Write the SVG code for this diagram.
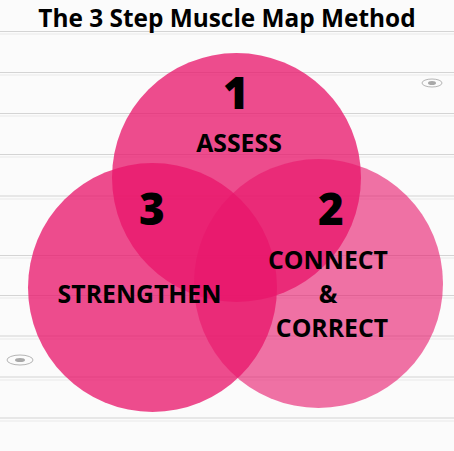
<svg xmlns="http://www.w3.org/2000/svg" width="454" height="451" viewBox="0 0 454 451">
  <style>
    .plank { stroke: #d4d4d4; stroke-width: 1.2; }
    .plankhi { stroke: #f2f2f2; stroke-width: 2; }
    .lbl { font-family: "Open Sans", "Liberation Sans", sans-serif; font-weight: 700; fill: #000; text-anchor: middle; }
    .num { font-family: "Open Sans", "Liberation Sans", sans-serif; font-weight: 800; fill: #000; text-anchor: middle; font-size: 44px; }
    .word { font-size: 24.8px; }
  </style>
  <g id="background">
    <rect x="0" y="0" width="454" height="451" fill="#fbfbfb"/>
    <g class="plankhi">
      <line x1="0" y1="34" x2="454" y2="34"/>
      <line x1="0" y1="75" x2="454" y2="75"/>
      <line x1="0" y1="116" x2="454" y2="116"/>
      <line x1="0" y1="157" x2="454" y2="157"/>
      <line x1="0" y1="199" x2="454" y2="199"/>
      <line x1="0" y1="258" x2="454" y2="258"/>
      <line x1="0" y1="298" x2="454" y2="298"/>
      <line x1="0" y1="339" x2="454" y2="339"/>
      <line x1="0" y1="380" x2="454" y2="380"/>
      <line x1="0" y1="421" x2="454" y2="421"/>
    </g>
    <g class="plank">
      <line x1="0" y1="31.5" x2="454" y2="31.5"/>
      <line x1="0" y1="72.5" x2="454" y2="72.5"/>
      <line x1="0" y1="113.5" x2="454" y2="113.5"/>
      <line x1="0" y1="154.5" x2="454" y2="154.5"/>
      <line x1="0" y1="196" x2="454" y2="196"/>
      <line x1="0" y1="255.5" x2="454" y2="255.5"/>
      <line x1="0" y1="295.5" x2="454" y2="295.5"/>
      <line x1="0" y1="336" x2="454" y2="336"/>
      <line x1="0" y1="377" x2="454" y2="377"/>
      <line x1="0" y1="418" x2="454" y2="418"/>
    </g>
    <ellipse cx="432" cy="83" rx="10" ry="4" fill="none" stroke="#b5b5b5" stroke-width="1"/>
    <ellipse cx="432" cy="83" rx="4" ry="2" fill="#a8a8a8"/>
    <ellipse cx="20" cy="360" rx="13" ry="5" fill="none" stroke="#b5b5b5" stroke-width="1"/>
    <ellipse cx="20" cy="360" rx="5" ry="2" fill="#a8a8a8"/>
  </g>
  <g id="circles">
    <g id="circle-1"><circle cx="236.5" cy="177.5" r="124.5" fill="#e8156a" fill-opacity="0.76"/></g>
    <g id="circle-3"><circle cx="152.5" cy="287.5" r="124.5" fill="#e8156a" fill-opacity="0.76"/></g>
    <g id="circle-2"><circle cx="318.5" cy="283.5" r="124.5" fill="#e8156a" fill-opacity="0.6"/></g>
  </g>
  <g id="title">
    <text class="lbl" x="227" y="27" font-size="24.4">The 3 Step Muscle Map Method</text>
  </g>
  <g id="node-1">
    <text class="num" x="236" y="109">1</text>
    <text class="lbl word" x="239" y="152">ASSESS</text>
  </g>
  <g id="node-3">
    <text class="num" x="152" y="225">3</text>
    <text class="lbl word" x="139.5" y="303">STRENGTHEN</text>
  </g>
  <g id="node-2">
    <text class="num" x="331" y="225">2</text>
    <text class="lbl word" x="328" y="269">CONNECT</text>
    <text class="lbl word" x="328" y="303">&amp;</text>
    <text class="lbl word" x="332" y="337">CORRECT</text>
  </g>
</svg>
